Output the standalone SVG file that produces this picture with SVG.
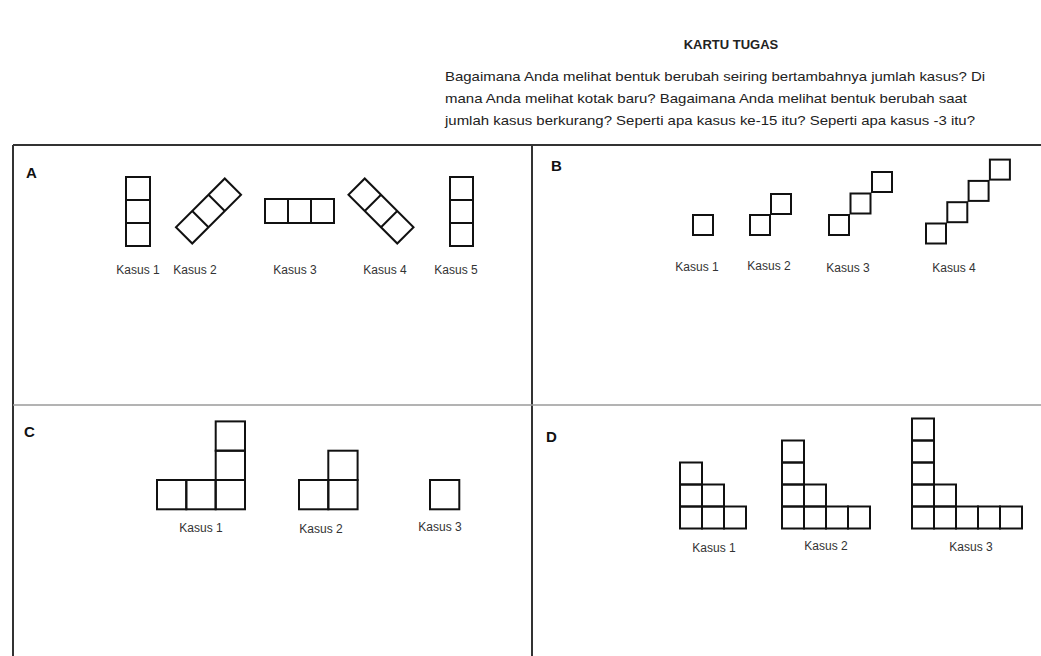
<svg xmlns="http://www.w3.org/2000/svg" width="1041" height="656" viewBox="0 0 1041 656">
<style>
.sq{fill:none;stroke:#111;stroke-width:2}
.lbl{font-family:"Liberation Sans",Arial,sans-serif;font-size:12px;fill:#333}
.ltr{font-family:"Liberation Sans",Arial,sans-serif;font-size:15px;font-weight:bold;fill:#111}
.hd{font-family:"Liberation Sans",Arial,sans-serif;font-size:13px;fill:#222}
.frame{stroke:#333;stroke-width:2;fill:none}
.div{stroke:#9a9a9a;stroke-width:1.5;fill:none}
</style>
<rect width="1041" height="656" fill="#fff"/>
<g id="header">
<text class="hd" x="731" y="49" text-anchor="middle" font-weight="bold">KARTU TUGAS</text>
<text class="hd" x="445" y="81" textLength="540" lengthAdjust="spacingAndGlyphs">Bagaimana Anda melihat bentuk berubah seiring bertambahnya jumlah kasus? Di</text>
<text class="hd" x="445" y="103" textLength="522" lengthAdjust="spacingAndGlyphs">mana Anda melihat kotak baru? Bagaimana Anda melihat bentuk berubah saat</text>
<text class="hd" x="445" y="125" textLength="530" lengthAdjust="spacingAndGlyphs">jumlah kasus berkurang? Seperti apa kasus ke-15 itu? Seperti apa kasus -3 itu?</text>
</g>
<g id="frame">
<path class="frame" d="M13 145H1041M13 145V656M532 145V656"/>
<path class="div" d="M13 405H1041"/>
</g>
<g id="panel-A">
<text class="ltr" x="26" y="178">A</text>
<g id="A-kasus1"><rect class="sq" x="126" y="177" width="24" height="69"/><path class="sq" d="M126 200H150M126 223H150"/><text class="lbl" x="138" y="274" text-anchor="middle">Kasus 1</text></g>
<g id="A-kasus2"><g transform="translate(208.5,211) rotate(-45)"><rect class="sq" x="-34.5" y="-11.5" width="69" height="23"/><path class="sq" d="M-11.5 -11.5V11.5M11.5 -11.5V11.5"/></g><text class="lbl" x="195" y="274" text-anchor="middle">Kasus 2</text></g>
<g id="A-kasus3"><rect class="sq" x="265" y="199" width="69" height="24"/><path class="sq" d="M288 199V223M311 199V223"/><text class="lbl" x="295" y="274" text-anchor="middle">Kasus 3</text></g>
<g id="A-kasus4"><g transform="translate(381,211) rotate(45)"><rect class="sq" x="-34.5" y="-11.5" width="69" height="23"/><path class="sq" d="M-11.5 -11.5V11.5M11.5 -11.5V11.5"/></g><text class="lbl" x="385" y="274" text-anchor="middle">Kasus 4</text></g>
<g id="A-kasus5"><rect class="sq" x="450" y="177" width="23" height="69"/><path class="sq" d="M450 200H473M450 223H473"/><text class="lbl" x="456" y="274" text-anchor="middle">Kasus 5</text></g>
</g>
<g id="panel-B">
<text class="ltr" x="551" y="171">B</text>
<g id="B-kasus1"><rect class="sq" x="693" y="215" width="20" height="20"/><text class="lbl" x="697" y="271" text-anchor="middle">Kasus 1</text></g>
<g id="B-kasus2"><rect class="sq" x="750" y="215" width="20" height="20"/><rect class="sq" x="771" y="194" width="20" height="20"/><text class="lbl" x="769" y="270" text-anchor="middle">Kasus 2</text></g>
<g id="B-kasus3"><rect class="sq" x="829" y="215" width="20" height="20"/><rect class="sq" x="850.5" y="193.5" width="20" height="20"/><rect class="sq" x="872" y="172" width="20" height="20"/><text class="lbl" x="848" y="272" text-anchor="middle">Kasus 3</text></g>
<g id="B-kasus4"><rect class="sq" x="926" y="223.5" width="20" height="20"/><rect class="sq" x="947.3" y="202.2" width="20" height="20"/><rect class="sq" x="968.6" y="180.9" width="20" height="20"/><rect class="sq" x="989.9" y="159.6" width="20" height="20"/><text class="lbl" x="954" y="272" text-anchor="middle">Kasus 4</text></g>
</g>
<g id="panel-C">
<text class="ltr" x="24" y="437">C</text>
<g id="C-kasus1"><rect class="sq" x="157" y="480" width="29.3" height="29.3"/><rect class="sq" x="186.3" y="480" width="29.3" height="29.3"/><rect class="sq" x="215.7" y="480" width="29.3" height="29.3"/><rect class="sq" x="215.7" y="450.7" width="29.3" height="29.3"/><rect class="sq" x="215.7" y="421.4" width="29.3" height="29.3"/><text class="lbl" x="201" y="532" text-anchor="middle">Kasus 1</text></g>
<g id="C-kasus2"><rect class="sq" x="299" y="480" width="29.3" height="29.3"/><rect class="sq" x="328.3" y="480" width="29.3" height="29.3"/><rect class="sq" x="328.3" y="450.7" width="29.3" height="29.3"/><text class="lbl" x="321" y="533" text-anchor="middle">Kasus 2</text></g>
<g id="C-kasus3"><rect class="sq" x="430" y="480" width="29.3" height="29.3"/><text class="lbl" x="440" y="531" text-anchor="middle">Kasus 3</text></g>
</g>
<g id="panel-D">
<text class="ltr" x="546" y="442">D</text>
<g id="D-kasus1">
<rect class="sq" x="680" y="506.5" width="22" height="22"/><rect class="sq" x="680" y="484.5" width="22" height="22"/><rect class="sq" x="680" y="462.5" width="22" height="22"/>
<rect class="sq" x="702" y="506.5" width="22" height="22"/><rect class="sq" x="702" y="484.5" width="22" height="22"/>
<rect class="sq" x="724" y="506.5" width="22" height="22"/>
<text class="lbl" x="714" y="552" text-anchor="middle">Kasus 1</text></g>
<g id="D-kasus2">
<rect class="sq" x="782" y="506.5" width="22" height="22"/><rect class="sq" x="782" y="484.5" width="22" height="22"/><rect class="sq" x="782" y="462.5" width="22" height="22"/><rect class="sq" x="782" y="440.5" width="22" height="22"/>
<rect class="sq" x="804" y="506.5" width="22" height="22"/><rect class="sq" x="804" y="484.5" width="22" height="22"/>
<rect class="sq" x="826" y="506.5" width="22" height="22"/><rect class="sq" x="848" y="506.5" width="22" height="22"/>
<text class="lbl" x="826" y="550" text-anchor="middle">Kasus 2</text></g>
<g id="D-kasus3">
<rect class="sq" x="912" y="506.5" width="22" height="22"/><rect class="sq" x="912" y="484.5" width="22" height="22"/><rect class="sq" x="912" y="462.5" width="22" height="22"/><rect class="sq" x="912" y="440.5" width="22" height="22"/><rect class="sq" x="912" y="418.5" width="22" height="22"/>
<rect class="sq" x="934" y="506.5" width="22" height="22"/><rect class="sq" x="934" y="484.5" width="22" height="22"/>
<rect class="sq" x="956" y="506.5" width="22" height="22"/><rect class="sq" x="978" y="506.5" width="22" height="22"/><rect class="sq" x="1000" y="506.5" width="22" height="22"/>
<text class="lbl" x="971" y="551" text-anchor="middle">Kasus 3</text></g>
</g>
</svg>
